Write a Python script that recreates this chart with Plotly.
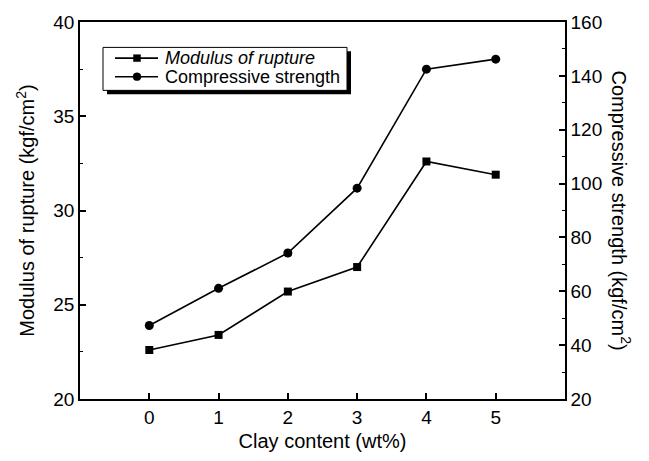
import plotly.graph_objects as go

# Clay content (wt%)
clay = [0, 1, 2, 3, 4, 5]
# Modulus of rupture (kgf/cm2), left axis
rupture = [22.6, 23.4, 25.7, 27.0, 32.6, 31.9]
# Compressive strength (kgf/cm2), right axis
compressive = [47.3, 61.1, 74.2, 98.3, 142.5, 146.2]

FONT = "Liberation Sans, Arial, sans-serif"
W, H = 649, 461
ML, MR, MT, MB = 80, 84, 15, 60
PW, PH = W - ML - MR, H - MT - MB


def px(x):
    """Pixel column -> paper x."""
    return (x - ML) / PW


def py(y):
    """Pixel row -> paper y."""
    return (H - MB - y) / PH


fig = go.Figure()
fig.add_trace(go.Scatter(
    x=clay, y=rupture, mode="lines+markers", name="Modulus of rupture",
    line=dict(color="black", width=1.6),
    marker=dict(symbol="square", size=8, color="black"),
    yaxis="y", showlegend=False,
))
fig.add_trace(go.Scatter(
    x=clay, y=compressive, mode="lines+markers", name="Compressive strength",
    line=dict(color="black", width=1.6),
    marker=dict(symbol="circle", size=9, color="black"),
    yaxis="y2", showlegend=False,
))

axis_common = dict(
    showline=True, linecolor="black", linewidth=1.5,
    ticks="inside", ticklen=6, tickwidth=1.5, tickcolor="black",
    showgrid=False, zeroline=False,
    tickfont=dict(family=FONT, size=19, color="black"),
)

fig.update_layout(
    width=W, height=H,
    margin=dict(l=ML, r=MR, t=MT, b=MB),
    paper_bgcolor="white", plot_bgcolor="white",
    font=dict(family=FONT, color="black"),
    showlegend=False,
    xaxis=dict(
        axis_common, range=[-1, 6], tickvals=clay, mirror=True,
        title=dict(text="Clay content (wt%)", font=dict(family=FONT, size=20), standoff=7),
    ),
    yaxis=dict(
        axis_common, range=[20, 40], tickvals=[20, 25, 30, 35, 40],
        minor=dict(ticks="inside", ticklen=3, tickwidth=1.2, tickcolor="black", dtick=2.5),
        title=dict(text="Modulus of rupture (kgf/cm<sup>2</sup>)", font=dict(family=FONT, size=20), standoff=13),
    ),
    yaxis2=dict(
        axis_common, range=[20, 160], tickvals=[20, 40, 60, 80, 100, 120, 140, 160],
        minor=dict(ticks="inside", ticklen=3, tickwidth=1.2, tickcolor="black", dtick=10),
        overlaying="y", side="right", anchor="x",
    ),
)

# Right-axis title reads top to bottom
fig.add_annotation(
    text="Compressive strength (kgf/cm<sup>2</sup>)",
    xref="paper", yref="paper", x=px(621), y=0.5,
    xanchor="center", yanchor="middle", textangle=90, showarrow=False,
    font=dict(family=FONT, size=20, color="black"),
)

# Legend box with a drop shadow
box_l, box_r, box_t, box_b = 103, 347, 41, 85
shadow = 4
fig.add_shape(type="rect", xref="paper", yref="paper",
              x0=px(box_l + shadow), x1=px(box_r + shadow),
              y0=py(box_b + shadow), y1=py(box_t + shadow),
              fillcolor="black", line=dict(width=0), layer="above")
fig.add_shape(type="rect", xref="paper", yref="paper",
              x0=px(box_l), x1=px(box_r), y0=py(box_b), y1=py(box_t),
              fillcolor="white", line=dict(color="black", width=1), layer="above")

legend_rows = [
    ("<i>Modulus of rupture</i>", "square", 52),
    ("Compressive strength", "circle", 71),
]
for label, symbol, row in legend_rows:
    fig.add_shape(type="line", xref="paper", yref="paper",
                  x0=px(115), x1=px(158), y0=py(row), y1=py(row),
                  line=dict(color="black", width=1.6), layer="above")
    half = 3.5 if symbol == "square" else 4
    fig.add_shape(type="rect" if symbol == "square" else "circle",
                  xref="paper", yref="paper",
                  x0=px(137 - half), x1=px(137 + half),
                  y0=py(row + half), y1=py(row - half),
                  fillcolor="black", line=dict(color="black", width=0.5), layer="above")
    fig.add_annotation(text=label, xref="paper", yref="paper",
                       x=px(163), y=py(row), xanchor="left", yanchor="middle",
                       showarrow=False, font=dict(family=FONT, size=18, color="black"))

fig.write_html("out.html")
